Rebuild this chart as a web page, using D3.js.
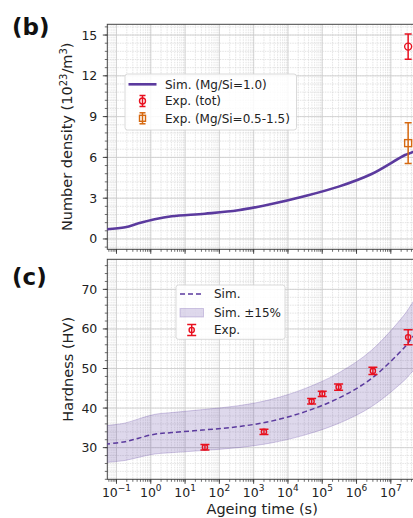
<!DOCTYPE html>
<html>
<head>
<meta charset="utf-8">
<script src="https://cdn.jsdelivr.net/npm/d3@7"></script>
<style>
  body { margin: 0; background: #fff; }
  svg { display: block; font-family: "DejaVu Sans", sans-serif; }
</style>
</head>
<body>
<svg id="chart" width="413" height="518"></svg>
<script>
// simulated number density, time (s) vs 10^23/m^3
const simTime = [0.047, 0.18, 0.44, 1.3, 4.1, 38, 355, 3300, 32000, 300000, 2750000, 26000000, 40000000, 1e8]
const simDensity = [0.71, 0.86, 1.15, 1.45, 1.67, 1.86, 2.11, 2.57, 3.16, 3.85, 4.78, 6.18, 6.35, 6.9]

// experimental densities
const expTotTime = [3.2e7]
const expTot = [14.15]
const expTotErr = [0.93]
const expMgTime = [3.2e7]
const expMg = [7.05]
const expMgErr = [1.5]

// simulated hardness (HV)
const hvTime = [0.047, 0.18, 0.44, 1.3, 4.1, 38, 355, 3300, 32000, 300000, 2750000, 26000000, 40000000, 1e8]
const hvSim = [30.9, 31.5, 32.4, 33.4, 33.8, 34.5, 35.3, 36.7, 39.1, 42.5, 47.5, 55.5, 57.6, 62.0]
const hvBand = 0.15

// experimental hardness
const hvExpTime = [38, 2000, 49000, 1e5, 3e5, 3e6, 3.2e7]
const hvExp = [30.1, 34.0, 41.7, 43.6, 45.3, 49.4, 57.9]
const hvExpErr = [0.7, 0.65, 0.7, 0.65, 0.8, 0.9, 1.9]

const xTickExp = [-1, 0, 1, 2, 3, 4, 5, 6, 7]
const legendB = ['Sim. (Mg/Si=1.0)', 'Exp. (tot)', 'Exp. (Mg/Si=0.5-1.5)']
const legendC = ['Sim.', 'Sim. \u00b115%', 'Exp.']

const purple = '#5b3a9e'
const red = '#e8101f'
const orange = '#d6680f'

const svg = d3.select('#chart')
const left = 107.3
const right = 417

const x = d3.scaleLog().domain([0.054, 5.8e7]).range([left, right])

const panelB = { top: 24.3, bottom: 249.3, y: d3.scaleLinear().domain([-0.76, 15.79]).range([249.3, 24.3]) }
const panelC = { top: 259.3, bottom: 479.3, y: d3.scaleLinear().domain([22.0, 77.6]).range([479.3, 259.3]) }

const minorX = []
for (let e = -2; e <= 8; e++) {
  for (let k = 1; k <= 9; k++) minorX.push(k * Math.pow(10, e))
}

const drawPanel = (p, id, yMajor, yMinorStep, showXLabels) => {
  const g = svg.append('g')
  g.append('clipPath').attr('id', id)
    .append('rect').attr('x', left).attr('y', p.top).attr('width', right - left).attr('height', p.bottom - p.top)

  const grid = g.append('g').attr('clip-path', `url(#${id})`)
  const [y0, y1] = p.y.domain()
  const yMinor = d3.range(Math.ceil(y0 / yMinorStep) * yMinorStep, y1, yMinorStep)

  // minor grid
  grid.selectAll('.vx').data(minorX).enter().append('line')
    .attr('x1', (d) => x(d)).attr('x2', (d) => x(d))
    .attr('y1', p.top).attr('y2', p.bottom)
    .attr('stroke', '#d2d2d2').attr('stroke-width', 0.6).attr('stroke-dasharray', '1.5,1')
  grid.selectAll('.hy').data(yMinor).enter().append('line')
    .attr('x1', left).attr('x2', right)
    .attr('y1', (d) => p.y(d)).attr('y2', (d) => p.y(d))
    .attr('stroke', '#d2d2d2').attr('stroke-width', 0.6).attr('stroke-dasharray', '1.5,1')
  // major grid
  grid.selectAll('.mx').data(xTickExp.map((e) => Math.pow(10, e))).enter().append('line')
    .attr('x1', (d) => x(d)).attr('x2', (d) => x(d))
    .attr('y1', p.top).attr('y2', p.bottom)
    .attr('stroke', '#cccccc').attr('stroke-width', 0.8)
  grid.selectAll('.my').data(yMajor).enter().append('line')
    .attr('x1', left).attr('x2', right)
    .attr('y1', (d) => p.y(d)).attr('y2', (d) => p.y(d))
    .attr('stroke', '#cccccc').attr('stroke-width', 0.8)

  // frame
  g.append('rect').attr('x', left).attr('y', p.top).attr('width', right - left).attr('height', p.bottom - p.top)
    .attr('fill', 'none').attr('stroke', '#444').attr('stroke-width', 1)

  // y ticks
  g.selectAll('.yt').data(yMinor).enter().append('line')
    .attr('x1', left - 2.5).attr('x2', left)
    .attr('y1', (d) => p.y(d)).attr('y2', (d) => p.y(d))
    .attr('stroke', '#333').attr('stroke-width', 0.7)
  g.selectAll('.ytm').data(yMajor).enter().append('line')
    .attr('x1', left - 4.5).attr('x2', left)
    .attr('y1', (d) => p.y(d)).attr('y2', (d) => p.y(d))
    .attr('stroke', '#333').attr('stroke-width', 0.9)
  g.selectAll('.ytl').data(yMajor).enter().append('text')
    .attr('x', left - 10).attr('y', (d) => p.y(d)).attr('dy', '0.36em')
    .attr('text-anchor', 'end').attr('font-size', 12.5).attr('fill', '#222')
    .text((d) => d)

  // x ticks
  const xm = minorX.filter((d) => x(d) >= left - 0.5 && x(d) <= right)
  g.selectAll('.xt').data(xm).enter().append('line')
    .attr('x1', (d) => x(d)).attr('x2', (d) => x(d))
    .attr('y1', p.bottom).attr('y2', p.bottom + 2.5)
    .attr('stroke', '#333').attr('stroke-width', 0.7)
  g.selectAll('.xtm').data(xTickExp).enter().append('line')
    .attr('x1', (d) => x(Math.pow(10, d))).attr('x2', (d) => x(Math.pow(10, d)))
    .attr('y1', p.bottom).attr('y2', p.bottom + 4.5)
    .attr('stroke', '#333').attr('stroke-width', 0.9)

  if (showXLabels) {
    const lab = g.selectAll('.xtl').data(xTickExp).enter().append('text')
      .attr('x', (d) => x(Math.pow(10, d))).attr('y', p.bottom + 17.5)
      .attr('text-anchor', 'middle').attr('font-size', 12.5).attr('fill', '#222')
    lab.append('tspan').text('10')
    lab.append('tspan').attr('dy', -5.5).attr('font-size', 9).text((d) => (d < 0 ? '\u2212' + (-d) : d))
  }
  return g
}

// error bar marker drawn at pixel position
const errMark = (g, cx, cy, yLo, yHi, color, shape, r, capW) => {
  g.append('line').attr('x1', cx).attr('x2', cx).attr('y1', yLo).attr('y2', yHi)
    .attr('stroke', color).attr('stroke-width', 1.5)
  ;[yLo, yHi].forEach((v) => {
    g.append('line').attr('x1', cx - capW).attr('x2', cx + capW).attr('y1', v).attr('y2', v)
      .attr('stroke', color).attr('stroke-width', 1.5)
  })
  if (shape === 'circle') {
    g.append('circle').attr('cx', cx).attr('cy', cy).attr('r', r)
      .attr('fill', 'none').attr('stroke', color).attr('stroke-width', 1.4)
  } else {
    g.append('rect').attr('x', cx - r).attr('y', cy - r).attr('width', 2 * r).attr('height', 2 * r)
      .attr('fill', 'none').attr('stroke', color).attr('stroke-width', 1.4)
  }
}

// ---- panel (b)
const gb = drawPanel(panelB, 'clipB', [0, 3, 6, 9, 12, 15], 0.6, false)
const plotB = gb.append('g').attr('clip-path', 'url(#clipB)')

const lineB = d3.line()
  .x((d) => x(d[0])).y((d) => panelB.y(d[1]))
  .curve(d3.curveCatmullRom.alpha(0.5))
plotB.append('path')
  .datum(simTime.map((t, i) => [t, simDensity[i]]))
  .attr('d', lineB).attr('fill', 'none').attr('stroke', purple).attr('stroke-width', 2.6)

expTotTime.forEach((t, i) => errMark(plotB, x(t), panelB.y(expTot[i]),
  panelB.y(expTot[i] - expTotErr[i]), panelB.y(expTot[i] + expTotErr[i]), red, 'circle', 3.5, 3.5))
expMgTime.forEach((t, i) => errMark(plotB, x(t), panelB.y(expMg[i]),
  panelB.y(expMg[i] - expMgErr[i]), panelB.y(expMg[i] + expMgErr[i]), orange, 'square', 3.5, 3.5))

// legend (b)
const legB = svg.append('g')
legB.append('rect').attr('x', 125).attr('y', 74).attr('width', 171.5).attr('height', 56).attr('rx', 2.5)
  .attr('fill', 'rgba(255,255,255,0.85)').attr('stroke', '#d0d0d0').attr('stroke-width', 0.8)
legB.append('line').attr('x1', 128.5).attr('x2', 156.5).attr('y1', 84.3).attr('y2', 84.3)
  .attr('stroke', purple).attr('stroke-width', 2.6)
errMark(legB, 142.5, 101, 95.5, 106.5, red, 'circle', 3, 3)
errMark(legB, 142.5, 118.3, 112.8, 123.8, orange, 'square', 3, 3)
legB.selectAll('.lt').data(legendB).enter().append('text')
  .attr('x', 165).attr('y', (d, i) => [84.3, 101, 118.3][i]).attr('dy', '0.36em')
  .attr('font-size', 12).attr('fill', '#222').text((d) => d)

// ---- panel (c)
const gc = drawPanel(panelC, 'clipC', [30, 40, 50, 60, 70], 2, true)
const plotC = gc.append('g').attr('clip-path', 'url(#clipC)')

const hvData = hvTime.map((t, i) => [t, hvSim[i]])
const area = d3.area()
  .x((d) => x(d[0]))
  .y0((d) => panelC.y(d[1] * (1 - hvBand)))
  .y1((d) => panelC.y(d[1] * (1 + hvBand)))
  .curve(d3.curveCatmullRom.alpha(0.5))
plotC.append('path').datum(hvData).attr('d', area)
  .attr('fill', purple).attr('fill-opacity', 0.2)
  .attr('stroke', purple).attr('stroke-opacity', 0.25).attr('stroke-width', 1)

const lineC = d3.line()
  .x((d) => x(d[0])).y((d) => panelC.y(d[1]))
  .curve(d3.curveCatmullRom.alpha(0.5))
plotC.append('path').datum(hvData).attr('d', lineC)
  .attr('fill', 'none').attr('stroke', purple).attr('stroke-width', 1.5).attr('stroke-dasharray', '5,3')

hvExpTime.forEach((t, i) => errMark(plotC, x(t), panelC.y(hvExp[i]),
  panelC.y(hvExp[i] - hvExpErr[i]), panelC.y(hvExp[i] + hvExpErr[i]), red, 'circle', 2.6, 4.5))

// legend (c)
const legC = svg.append('g')
legC.append('rect').attr('x', 176).attr('y', 285).attr('width', 109).attr('height', 54.3).attr('rx', 2.5)
  .attr('fill', 'rgba(255,255,255,0.85)').attr('stroke', '#d0d0d0').attr('stroke-width', 0.8)
legC.append('line').attr('x1', 180).attr('x2', 203.5).attr('y1', 294).attr('y2', 294)
  .attr('stroke', purple).attr('stroke-width', 1.5).attr('stroke-dasharray', '5,3')
legC.append('rect').attr('x', 180).attr('y', 308.5).attr('width', 23.5).attr('height', 8.5)
  .attr('fill', purple).attr('fill-opacity', 0.2).attr('stroke', purple).attr('stroke-opacity', 0.25)
errMark(legC, 191.7, 330, 324.5, 335.5, red, 'circle', 2.6, 4.5)
legC.selectAll('.lt').data(legendC).enter().append('text')
  .attr('x', 214).attr('y', (d, i) => [294, 312.7, 330][i]).attr('dy', '0.36em')
  .attr('font-size', 12).attr('fill', '#222').text((d) => d)

// axis titles
const yb = svg.append('text')
  .attr('transform', `translate(72,${(panelB.top + panelB.bottom) / 2}) rotate(-90)`)
  .attr('text-anchor', 'middle').attr('font-size', 14.5).attr('fill', '#222')
yb.append('tspan').text('Number density (10')
yb.append('tspan').attr('dy', -5.5).attr('font-size', 10).text('23')
yb.append('tspan').attr('dy', 5.5).text('/m')
yb.append('tspan').attr('dy', -5.5).attr('font-size', 10).text('3')
yb.append('tspan').attr('dy', 5.5).text(')')

svg.append('text')
  .attr('transform', `translate(73,${(panelC.top + panelC.bottom) / 2}) rotate(-90)`)
  .attr('text-anchor', 'middle').attr('font-size', 14.5).attr('fill', '#222')
  .text('Hardness (HV)')

svg.append('text')
  .attr('x', (left + right) / 2).attr('y', 514)
  .attr('text-anchor', 'middle').attr('font-size', 14.5).attr('fill', '#222')
  .text('Ageing time (s)')

// panel letters
svg.append('text').attr('x', 12).attr('y', 35).attr('font-size', 23).attr('font-weight', 'bold')
  .attr('fill', '#111').text('(b)')
svg.append('text').attr('x', 12).attr('y', 285).attr('font-size', 23).attr('font-weight', 'bold')
  .attr('fill', '#111').text('(c)')
</script>
</body>
</html>
